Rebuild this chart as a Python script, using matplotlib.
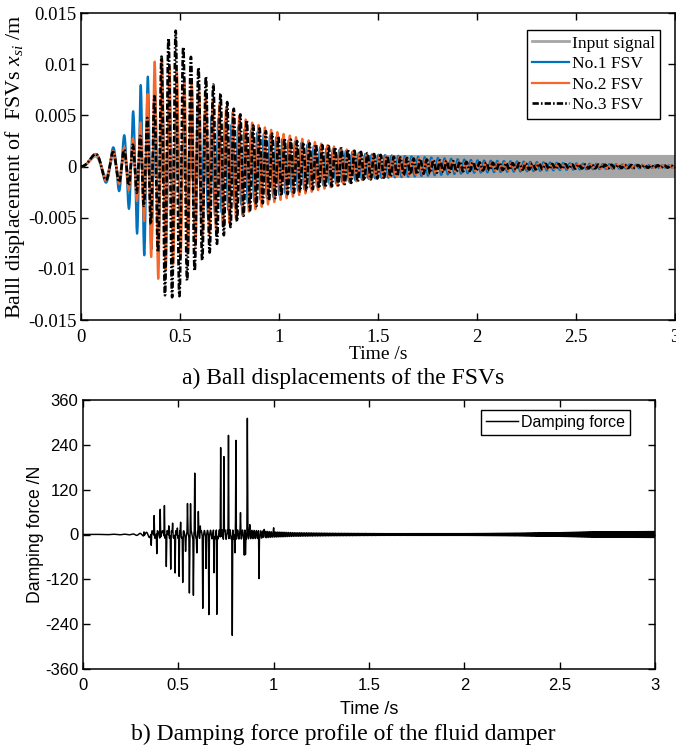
import numpy as np
import matplotlib
matplotlib.use("Agg")
import matplotlib.pyplot as plt

# ---------------- data ----------------
# a) Ball displacements of the FSVs
time_end = 3.0
input_amp = 0.001
input_freq_t = [0.0, 3.0]
input_freq_hz = [0.0, 285.0]
resp_freq_t = [0.0, 0.30, 0.50, 1.00, 1.50, 3.00]
resp_freq_hz = [0.0, 28.5, 28.0, 32.0, 30.0, 30.0]

fsv1_env_t = [0, 0.071, 0.158, 0.183, 0.214, 0.236, 0.256, 0.281, 0.30, 0.32, 0.337, 0.37,
              0.42, 0.5, 0.6, 0.8, 1.0, 1.2, 1.45, 1.75, 2.0, 2.2, 2.5, 3.0]
fsv1_env = [0.0011, 0.0012, 0.0018, 0.0022, 0.0029, 0.0038, 0.005, 0.0064, 0.0079, 0.0087, 0.0088,
            0.0075, 0.0064, 0.006, 0.0054, 0.0038, 0.0028, 0.0019, 0.0012, 0.0009, 0.0006, 0.0005,
            0.0003, 0.0001]
fsv1_lag_t = [0, 0.22, 0.34, 0.5, 3.0]
fsv1_lag = [0, 0, 0.6, 1.6, 1.6]

fsv2_env_t = [0, 0.071, 0.158, 0.214, 0.257, 0.28, 0.316, 0.327, 0.365, 0.387, 0.40, 0.42, 0.5,
              0.55, 0.65, 0.85, 1.0, 1.2, 1.45, 1.8, 2.0, 2.2, 2.5, 3.0]
fsv2_env = [0.0011, 0.0012, 0.0015, 0.0018, 0.0026, 0.0033, 0.0051, 0.0062, 0.0099, 0.011, 0.0109,
            0.0102, 0.009, 0.0082, 0.0066, 0.0044, 0.0033, 0.0023, 0.0012, 0.0006, 0.0004, 0.00035,
            0.0002, 0.0001]
fsv2_lag_t = [0, 0.25, 0.387, 0.6, 3.0]
fsv2_lag = [0, 0, 0.5, 2.6, 2.6]

fsv3_env_t = [0, 0.071, 0.158, 0.214, 0.256, 0.30, 0.33, 0.36, 0.39, 0.42, 0.45, 0.483, 0.52, 0.56,
              0.61, 0.66, 0.71, 0.75, 0.81, 0.87, 0.94, 1.02, 1.11, 1.28, 1.45, 1.6, 1.8, 2.0, 2.5, 3.0]
fsv3_env = [0.0011, 0.0012, 0.0014, 0.0016, 0.002, 0.003, 0.0045, 0.006, 0.0085, 0.0126, 0.0125,
            0.0134, 0.0115, 0.0106, 0.0092, 0.0082, 0.007, 0.006, 0.005, 0.004, 0.0034, 0.0028,
            0.0024, 0.0019, 0.0013, 0.0009, 0.0006, 0.0004, 0.0002, 0.0001]
fsv3_lag_t = [0, 0.30, 0.483, 0.7, 3.0]
fsv3_lag = [0, 0, 0.4, 3.6, 3.6]

series_labels = ["Input signal", "No.1 FSV", "No.2 FSV", "No.3 FSV"]

top_yticks = [-0.015, -0.01, -0.005, 0, 0.005, 0.01, 0.015]
top_yticklabels = ["-0.015", "-0.01", "-0.005", "0", "0.005", "0.01", "0.015"]
xticks = [0, 0.5, 1, 1.5, 2, 2.5, 3]
xticklabels = ["0", "0.5", "1", "1.5", "2", "2.5", "3"]

# b) Damping force profile (spikes read from the picture)
spike_t = [0.32, 0.358, 0.373, 0.387, 0.405, 0.427, 0.437, 0.45, 0.46, 0.47, 0.483, 0.495, 0.504,
           0.512, 0.523, 0.538, 0.548, 0.558, 0.564, 0.579, 0.586, 0.597, 0.605, 0.615, 0.628,
           0.645, 0.66, 0.687, 0.702, 0.722, 0.739, 0.763, 0.783, 0.797, 0.802, 0.826, 0.846,
           0.852, 0.862, 0.875, 0.923, 0.95, 1.0]
spike_v = [10, -34, 57, -58, 77, 86, -90, 30, -96, 30, -108, 25, -116, 30, -128, -35, 73, -147, 76,
           -158, 155, -45, 55, 25, -187, -80, -204, -108, -220, 245, 213, 276, -279, -60, 256, 52,
           -55, -55, 300, 18, -120, 20, 18]
bg_env_t = [0, 0.25, 0.32, 0.36, 0.6, 0.75, 0.9, 1.0, 1.1, 1.3, 1.6, 2.0, 2.3, 2.5, 2.7, 3.0]
bg_env = [0, 1, 4, 10, 10, 13, 11, 7, 5, 3.5, 2.5, 2.5, 3.5, 5, 7, 8]

force_yticks = [-360, -240, -120, 0, 120, 240, 360]
force_yticklabels = ["-360", "-240", "-120", "0", "120", "240", "360"]

# ---------------- build signals ----------------
t = np.linspace(0, time_end, 60001)
dt = t[1] - t[0]
phase_in = 2 * np.pi * np.cumsum(np.interp(t, input_freq_t, input_freq_hz)) * dt
phase_resp = 2 * np.pi * np.cumsum(np.interp(t, resp_freq_t, resp_freq_hz)) * dt

x_input = input_amp * np.sin(phase_in)
x1 = np.interp(t, fsv1_env_t, fsv1_env) * np.sin(phase_resp - np.interp(t, fsv1_lag_t, fsv1_lag))
x2 = np.interp(t, fsv2_env_t, fsv2_env) * np.sin(phase_resp - np.interp(t, fsv2_lag_t, fsv2_lag))
x3 = np.interp(t, fsv3_env_t, fsv3_env) * np.sin(phase_resp - np.interp(t, fsv3_lag_t, fsv3_lag))

force = np.interp(t, bg_env_t, bg_env) * np.sin(phase_in)
half_w = 0.0025
for ts, vs in zip(spike_t, spike_v):
    force += vs * np.clip(1 - np.abs(t - ts) / half_w, 0, None)

# ---------------- figure ----------------
plt.rcParams["axes.unicode_minus"] = False
plt.rcParams["mathtext.fontset"] = "custom"
plt.rcParams["mathtext.rm"] = "Liberation Serif"
plt.rcParams["mathtext.it"] = "Liberation Serif:italic"

W, H = 676, 746
fig = plt.figure(figsize=(W / 100, H / 100), dpi=100)

serif = "Liberation Serif"
sans = "Liberation Sans"

# ----- a) -----
ax1 = fig.add_axes([81 / W, 1 - 320 / H, (675 - 81) / W, (320 - 13) / H])
ax1.plot(t, x_input, color="#a6a6a6", lw=2.0, label=series_labels[0])
ax1.plot(t, x1, color="#0072BD", lw=1.6, label=series_labels[1])
ax1.plot(t, x2, color="#F5672A", lw=1.6, label=series_labels[2])
ax1.plot(t, x3, color="black", lw=1.9, linestyle=(0, (2.4, 0.8, 0.6, 0.8)),
         label=series_labels[3])
ax1.set_xlim(0, time_end)
ax1.set_ylim(-0.015, 0.015)
ax1.set_yticks(top_yticks)
ax1.set_yticklabels(top_yticklabels, fontfamily=serif, fontsize=13.5)
ax1.set_xticks(xticks)
ax1.set_xticklabels(xticklabels, fontfamily=serif, fontsize=13.5)
ax1.tick_params(direction="in", top=True, right=True, length=5, width=1)
ax1.tick_params(axis="x", pad=6.5)
ax1.tick_params(axis="y", pad=3)
ax1.set_xlabel("Time /s", fontfamily=serif, fontsize=14, labelpad=0)
ax1.set_ylabel(r"Balll displacement of  FSVs $x_{si}$ /m", fontfamily=serif, fontsize=15.8,
               labelpad=1)
for s in ax1.spines.values():
    s.set_linewidth(1.1)
leg1 = ax1.legend(loc="upper right", bbox_to_anchor=((660 - 81) / 594, (320 - 30) / 307),
                  prop={"family": serif, "size": 12.6}, frameon=True, fancybox=False,
                  edgecolor="black", handlelength=2.1, handletextpad=0.15, borderpad=0.3,
                  labelspacing=0.25, borderaxespad=0.0, framealpha=1)
leg1.get_frame().set_linewidth(1.0)

fig.text(343 / W, 1 - 378 / H, "a) Ball displacements of the FSVs", ha="center", va="center",
         fontfamily=serif, fontsize=17)

# ----- b) -----
ax2 = fig.add_axes([83 / W, 1 - 669 / H, (655 - 83) / W, (669 - 400) / H])
ax2.plot(t, force, color="black", lw=1.05, label="Damping force")
ax2.set_xlim(0, time_end)
ax2.set_ylim(-360, 360)
ax2.set_yticks(force_yticks)
ax2.set_yticklabels(force_yticklabels, fontfamily=sans, fontsize=12)
ax2.set_xticks(xticks)
ax2.set_xticklabels(xticklabels, fontfamily=sans, fontsize=12)
ax2.tick_params(direction="in", top=True, right=True, length=5, width=1)
ax2.tick_params(axis="x", pad=6.5)
ax2.tick_params(axis="y", pad=3.5)
ax2.set_xlabel("Time /s", fontfamily=sans, fontsize=13, labelpad=6)
ax2.set_ylabel("Damping force /N", fontfamily=sans, fontsize=12.7, labelpad=0.5)
for s in ax2.spines.values():
    s.set_linewidth(1.1)
leg2 = ax2.legend(loc="upper right", bbox_to_anchor=((630 - 83) / 572, (669 - 410) / 269),
                  prop={"family": sans, "size": 11.5}, frameon=True, fancybox=False,
                  edgecolor="black", handlelength=2.0, handletextpad=0.2, borderpad=0.3,
                  borderaxespad=0.0, framealpha=1)
leg2.get_frame().set_linewidth(1.0)

fig.text(343 / W, 1 - 734 / H, "b) Damping force profile of the fluid damper", ha="center",
         va="center", fontfamily=serif, fontsize=17)

fig.savefig("out.png", dpi=100)
